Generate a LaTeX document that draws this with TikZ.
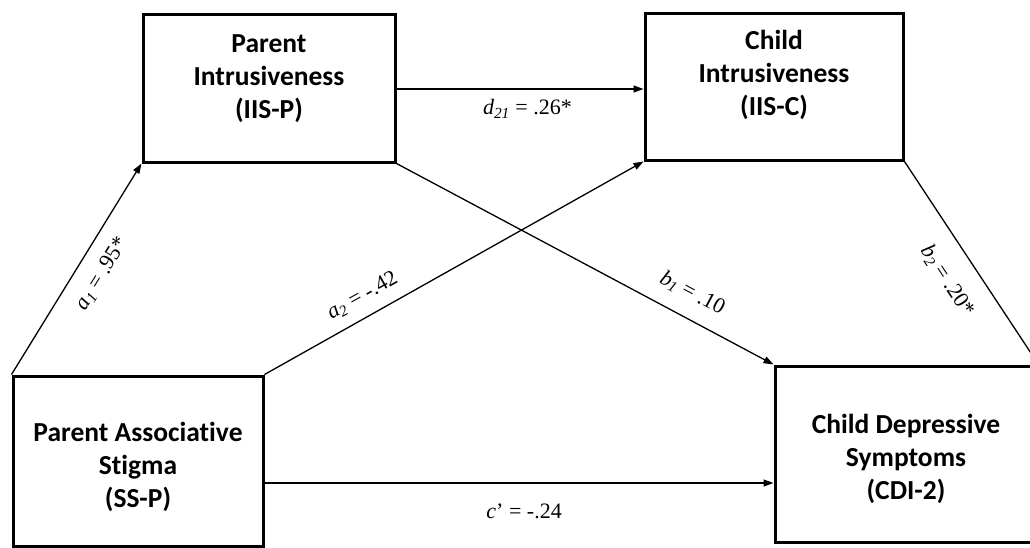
\documentclass[tikz,border=0pt]{standalone}
\usepackage{fontspec}
\setmainfont{Liberation Serif}
\newfontfamily\boxfont{Carlito}[Ligatures=NoCommon]
\usetikzlibrary{arrows.meta}
\newcommand{\pathlab}[3]{{\itshape #1\textsubscript{#2}} #3}
\begin{document}
\begin{tikzpicture}[x=1pt,y=-1pt,
  box/.style={draw, line width=3pt, inner sep=0pt},
  boxtxt/.style={font=\boxfont\bfseries\fontsize{27.5}{33}\selectfont, align=center, inner sep=0pt},
  conn/.style={line width=1.3pt, -{Triangle[length=10pt,width=7pt]}},
  lab/.style={font=\fontsize{22}{26}\selectfont, inner sep=2pt}]
\useasboundingbox (0,0) rectangle (1030,547);
% boxes
\node[box, minimum width=252pt, minimum height=148pt] (pi) at (269,88) {};
\node[box, minimum width=258pt, minimum height=147pt] (ci) at (774,86.5) {};
\node[box, minimum width=250pt, minimum height=170pt] (ss) at (138,461) {};
\node[box, minimum width=262pt, minimum height=176pt] (cdi) at (906,454) {};
% box texts
\node[boxtxt] (pit) at (269,78.5) {Parent\\Intrusiveness\\(IIS-P)};
\node[boxtxt] (cit) at (774,75) {Child\\Intrusiveness\\(IIS-C)};
\node[boxtxt] (sst) at (138,467) {Parent Associative\\Stigma\\(SS-P)};
\node[boxtxt] (cdit) at (906,459) {Child Depressive\\Symptoms\\(CDI-2)};
% connectors
\draw[conn] (ss.north west) -- node[lab, sloped, below=13pt, pos=0.537] {\pathlab{a}{1}{= .95*}} (pi.south west);
\draw[conn] (ss.north east) -- node[lab, sloped, above=9pt, pos=0.285] {\pathlab{a}{2}{= -.42}} (ci.south west);
\draw[conn] (pi.east |- 0,89) -- node[lab, below=8pt, pos=0.53] {\pathlab{d}{21}{= .26*}} (ci.west |- 0,89);
\draw[conn] (pi.south east) -- node[lab, sloped, above=13pt, pos=0.754] {\pathlab{b}{1}{= .10}} (cdi.north west);
\draw[conn] (ci.south east) -- node[lab, sloped, below=18pt, pos=0.506] {\pathlab{b}{2}{= .20*}} (cdi.north east);
\draw[conn] (ss.east |- 0,483) -- node[lab, below=18pt, pos=0.51] {{\itshape c}’ = -.24} (cdi.west |- 0,483);
\end{tikzpicture}
\end{document}
